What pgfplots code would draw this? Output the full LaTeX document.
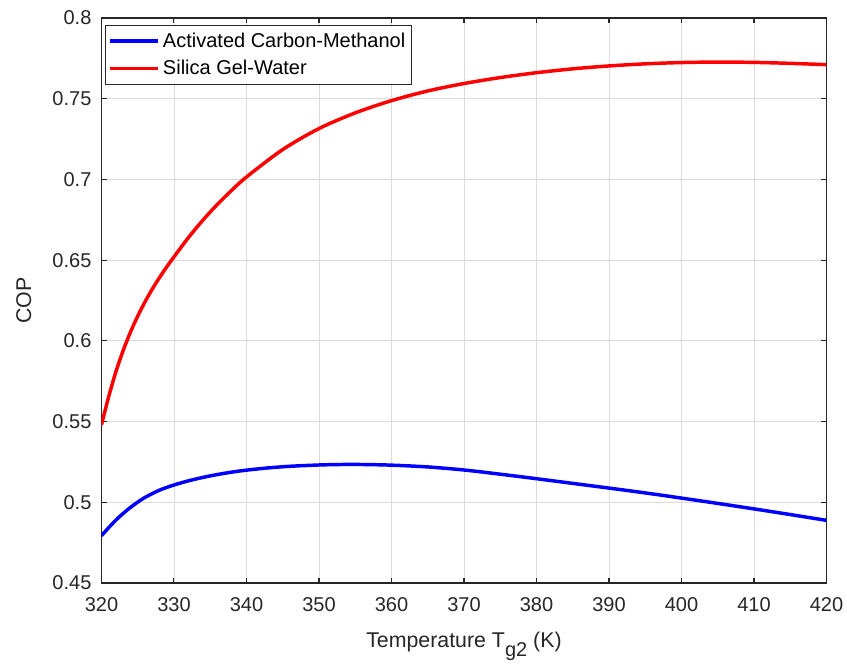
\documentclass[border=0pt]{standalone}
\usepackage{fontspec}
\setmainfont{Liberation Sans}
\usepackage{pgfplots}
\pgfplotsset{compat=1.18}
\definecolor{gridc}{gray}{0.86}
\definecolor{axc}{gray}{0.15}
\begin{document}
\begin{tikzpicture}
\begin{axis}[
  scale only axis,
  width=543.75pt, height=423.75pt,
  xmin=320, xmax=420, ymin=0.45, ymax=0.8,
  xtick={320,330,...,420},
  ytick={0.45,0.5,0.55,0.6,0.65,0.7,0.75,0.8},
  yticklabels={0.45,0.5,0.55,0.6,0.65,0.7,0.75,0.8},
  /pgf/number format/assume math mode=true,
  tick label style={font=\fontsize{15}{17}\selectfont, text=axc},
  xticklabel style={yshift=-7pt},
  yticklabel style={xshift=-4pt},
  grid=major,
  major grid style={gridc, line width=0.6pt},
  axis line style={axc, line width=0.8pt},
  tick style={axc, line width=0.8pt},
  tick align=inside,
  major tick length=4pt,
  xtick pos=both, ytick pos=both,
  xlabel={Temperature T\raisebox{-0.75ex}{\fontsize{15}{15}\selectfont g2} (K)},
  ylabel={COP},
  label style={font=\fontsize{16}{19}\selectfont, text=axc},
  xlabel style={yshift=-9pt},
  ylabel style={yshift=9pt},
  legend style={at={(0,1)}, anchor=north west, xshift=2.6pt, yshift=-5.2pt,
    font=\fontsize{15}{17}\selectfont, draw=axc, line width=0.7pt,
    inner xsep=2pt, inner ysep=3pt, row sep=3pt,
    nodes={inner sep=2.6pt}},
  legend cell align=left,
  legend image code/.code={\draw[#1, line width=2.6pt] (0pt,0pt) -- (36pt,0pt);},
]
\addplot[blue, line width=2.6pt, smooth] coordinates {
(320,0.4793) (321,0.4843) (322,0.4890) (323,0.4931) (324,0.4968) (325,0.5001)
(326,0.5030) (328,0.5075) (330,0.5107) (332,0.5133) (334,0.5154) (336,0.5172)
(338,0.5187) (340,0.5199) (343,0.5213) (346,0.5223) (350,0.5231) (353,0.5234)
(356,0.5234) (360,0.5230) (365,0.5219) (370,0.5200) (375,0.5174) (380,0.5146)
(385,0.5117) (390,0.5088) (395,0.5058) (400,0.5026) (405,0.4993) (410,0.4959)
(415,0.4924) (420,0.4888)
};
\addlegendentry{Activated Carbon-Methanol}
\addplot[red, line width=2.6pt, smooth] coordinates {
(320,0.548) (321,0.5655) (322,0.5810) (323,0.5941) (324,0.6054) (325,0.6153)
(326,0.6241) (327,0.6320) (328,0.6392) (329,0.6458) (330,0.6520)
(332,0.6640) (334,0.6748) (336,0.6846) (338,0.6934) (340,0.7015)
(345,0.7185) (350,0.7315) (355,0.7412) (360,0.7488) (365,0.7548)
(370,0.7594) (375,0.7631) (380,0.7661) (385,0.7685) (390,0.7703)
(395,0.7716) (400,0.7724) (405,0.7727) (410,0.7725) (415,0.7719) (420,0.7711)
};
\addlegendentry{Silica Gel-Water}
\end{axis}
\pgfresetboundingbox
\path[use as bounding box] ([xshift=-76.1pt,yshift=-62.25pt]current axis.south west) rectangle ([xshift=15.4pt,yshift=13.5pt]current axis.north east);
\end{tikzpicture}
\end{document}
